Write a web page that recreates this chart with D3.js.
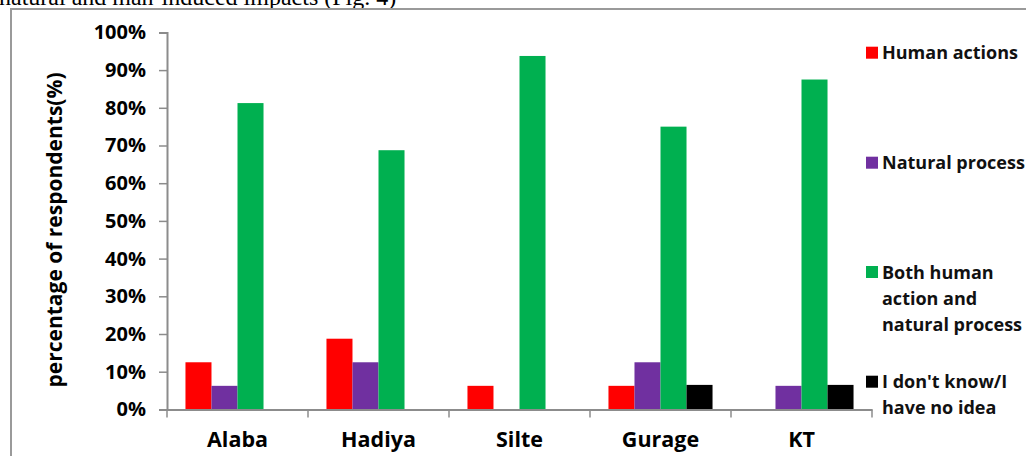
<!DOCTYPE html>
<html>
<head>
<meta charset="utf-8">
<script src="https://cdn.jsdelivr.net/npm/d3@7"></script>
<style>
  body { margin: 0; background: #fff; }
  svg { display: block; }
</style>
</head>
<body>
<svg id="chart"></svg>
<script>
// data
const zones = ["Alaba", "Hadiya", "Silte", "Gurage", "KT"];
const seriesNames = ["Human actions", "Natural process", "Both human action and natural process", "I don't know/I have no idea"];
const legendLines = [["Human actions"], ["Natural process"], ["Both human", "action and", "natural process"], ["I don't know/I", "have no idea"]];
const seriesColors = ["#ff0000", "#7030a0", "#00b050", "#000000"];
const humanActions   = [0.125, 0.1875, 0.0625, 0.0625, 0];
const naturalProcess = [0.0625, 0.125, 0, 0.125, 0.0625];
const bothCauses     = [0.8125, 0.6875, 0.9375, 0.75, 0.875];
const noIdea         = [0, 0, 0, 0.065, 0.065];
const yTicks = [0, 0.1, 0.2, 0.3, 0.4, 0.5, 0.6, 0.7, 0.8, 0.9, 1];
const captionText = "natural and man-induced impacts (Fig. 4)";

const values = [humanActions, naturalProcess, bothCauses, noIdea];
const W = 1026, H = 456;
const axisColor = "#8c8c8c";
const font = "'Open Sans', sans-serif";

const svg = d3.select("#chart").attr("width", W).attr("height", H);

// caption from the page, cut off by the figure
svg.append("text")
  .attr("x", -1).attr("y", 5)
  .style("font-family", "'Liberation Serif', 'Times New Roman', serif")
  .style("font-size", "24px")
  .text(captionText);

// frame of the figure
svg.append("path")
  .attr("d", `M11,${H}V9H${W}`)
  .attr("fill", "none")
  .attr("stroke", "#9a9a9a")
  .attr("stroke-width", 2);

// scales
const x = d3.scaleBand().domain(zones).range([167, 872]);
const xSub = d3.scaleBand().domain(d3.range(4)).range([0, x.bandwidth()]).paddingOuter(0.71);
const y = d3.scaleLinear().domain([0, 1]).range([409.4, 32.4]);

// bars
const groups = svg.append("g").selectAll("g")
  .data(zones)
  .join("g")
  .attr("transform", d => `translate(${x(d)},0)`);

groups.selectAll("rect")
  .data((d, i) => values.map((s, k) => ({ k: k, v: s[i] })))
  .join("rect")
  .attr("x", d => xSub(d.k))
  .attr("width", xSub.bandwidth())
  .attr("y", d => y(d.v))
  .attr("height", d => y(0) - y(d.v))
  .attr("fill", d => seriesColors[d.k]);

// y axis
const yAxis = svg.append("g")
  .attr("transform", "translate(167,0)")
  .call(d3.axisLeft(y).tickValues(yTicks).tickSize(8).tickPadding(13).tickFormat(d3.format(".0%")));
yAxis.select(".domain").attr("stroke", axisColor).attr("stroke-width", 2);
yAxis.selectAll(".tick line").attr("stroke", axisColor).attr("stroke-width", 1.5);
yAxis.selectAll(".tick text")
  .attr("fill", "#000")
  .style("font-family", font)
  .style("font-size", "20px")
  .style("font-weight", "bold");

// x axis
const xAxis = svg.append("g")
  .attr("transform", `translate(0,${y(0)})`)
  .call(d3.axisBottom(x).tickSize(0).tickPadding(22));
xAxis.select(".domain").attr("stroke", axisColor).attr("stroke-width", 2);
xAxis.selectAll(".tick text")
  .attr("fill", "#000")
  .style("font-family", font)
  .style("font-size", "21.5px")
  .style("font-weight", "bold");

const bounds = zones.map(d => x(d)).concat([x.range()[1]]);
xAxis.selectAll(".bound")
  .data(bounds)
  .join("line")
  .attr("class", "bound")
  .attr("x1", d => d).attr("x2", d => d)
  .attr("y1", 0).attr("y2", 8)
  .attr("stroke", axisColor)
  .attr("stroke-width", 1.5);

// y title
svg.append("text")
  .attr("transform", "translate(62,230) rotate(-90)")
  .attr("text-anchor", "middle")
  .style("font-family", font)
  .style("font-size", "21px")
  .style("font-weight", "bold")
  .text("percentage of respondents(%)");

// legend
const legendY = [52.7, 162.7, 272, 381.7];
const legend = svg.append("g").selectAll("g")
  .data(seriesNames)
  .join("g")
  .attr("transform", (d, i) => `translate(866,${legendY[i]})`);

legend.append("rect")
  .attr("x", 0).attr("y", -6)
  .attr("width", 12).attr("height", 12)
  .attr("fill", (d, i) => seriesColors[i]);

legend.append("text")
  .attr("x", 16)
  .style("font-family", font)
  .style("font-size", "18px")
  .style("font-weight", "bold")
  .attr("fill", "#111")
  .selectAll("tspan")
  .data((d, i) => legendLines[i])
  .join("tspan")
  .attr("x", 16)
  .attr("y", (d, j) => 6.5 + j * 26)
  .text(d => d);
</script>
</body>
</html>
